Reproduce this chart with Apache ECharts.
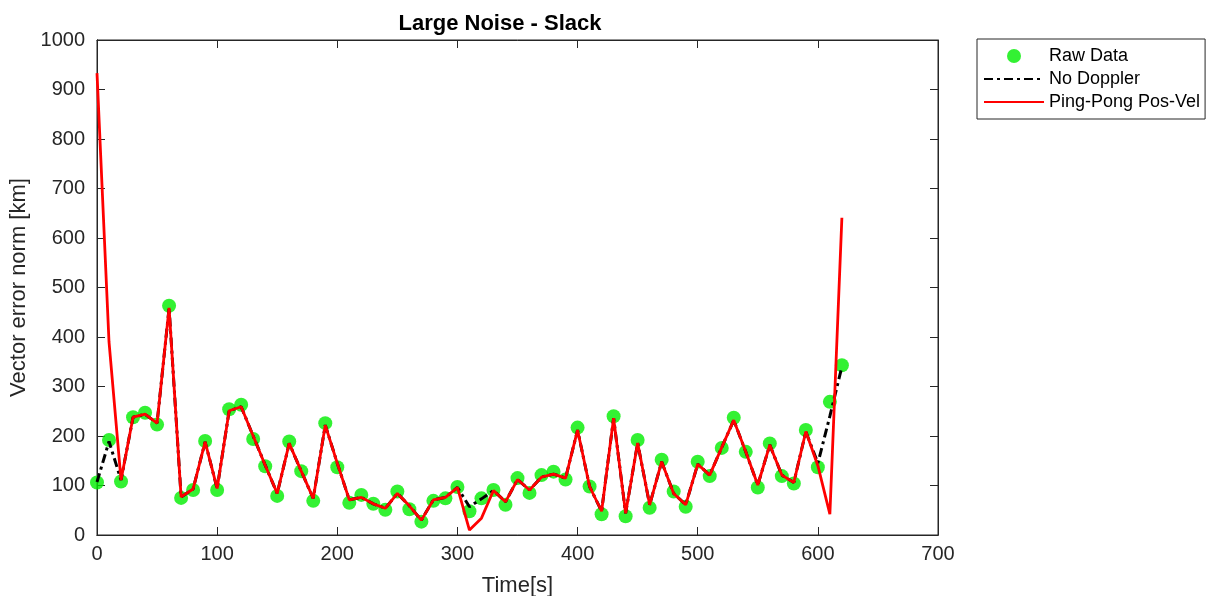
<!DOCTYPE html>
<html>
<head>
<meta charset="utf-8">
<script src="https://cdn.jsdelivr.net/npm/echarts@6/dist/echarts.min.js"></script>
<style>
  html, body { margin: 0; padding: 0; background: #fff; }
  #chart { width: 1217px; height: 596px; }
</style>
</head>
<body>
<div id="chart"></div>
<script>
// Sample times [s]
const timeS = [0, 10, 20, 30, 40, 50, 60, 70, 80, 90, 100, 110, 120, 130, 140, 150, 160, 170, 180, 190,
  200, 210, 220, 230, 240, 250, 260, 270, 280, 290, 300, 310, 320, 330, 340, 350, 360, 370, 380, 390,
  400, 410, 420, 430, 440, 450, 460, 470, 480, 490, 500, 510, 520, 530, 540, 550, 560, 570, 580, 590,
  600, 610, 620];

// Raw measurement error norm [km]
const rawData = [106, 192, 108, 238, 247, 223, 463, 75, 91, 190, 91, 254, 263, 194, 139, 79, 189, 129, 69, 226,
  137, 65, 81, 63, 51, 88, 52, 27, 69, 74, 97, 48, 74, 91, 61, 115, 85, 121, 128, 112,
  217, 98, 42, 240, 38, 192, 55, 152, 88, 57, 148, 119, 176, 237, 168, 96, 185, 119, 104, 212,
  137, 269, 343];

// Estimator without Doppler [km]
const noDoppler = [107, 189, 111, 238, 244, 226, 459, 77, 93, 188, 94, 251, 259, 200, 141, 84, 185, 129, 74, 222,
  145, 71, 76, 63, 54, 84, 59, 30, 71, 76, 96, 57, 73, 90, 67, 112, 91, 117, 123, 115,
  212, 98, 48, 236, 44, 186, 61, 148, 84, 61, 143, 121, 177, 232, 168, 101, 182, 121, 106, 209,
  145, 240, 340];

// Ping-Pong position/velocity estimator [km]
const pingPong = [933, 390, 111, 238, 244, 226, 459, 77, 93, 188, 94, 251, 259, 200, 141, 84, 185, 129, 74, 222,
  145, 71, 76, 63, 54, 84, 59, 30, 71, 76, 96, 10, 34, 90, 67, 112, 91, 117, 123, 115,
  212, 98, 48, 236, 44, 186, 61, 148, 84, 61, 143, 121, 177, 232, 168, 101, 182, 121, 106, 209,
  140, 42, 641];

const pairs = (ys) => timeS.map((t, i) => [t, ys[i]]);

const axisColor = '#262626';
const font = 'Liberation Sans, Arial, Helvetica, sans-serif';

const chart = echarts.init(document.getElementById('chart'), null, { renderer: 'canvas' });

// Labelled axes carry text only; the tick-only axes draw the inward ticks on all four sides.
function labelAxis(extra) {
  return Object.assign({
    type: 'value',
    axisLine: { show: true, onZero: false, lineStyle: { color: axisColor, width: 1 } },
    axisTick: { show: false },
    splitLine: { show: false }
  }, extra);
}
function tickAxis(extra) {
  return Object.assign({
    type: 'value',
    axisLine: { show: true, onZero: false, lineStyle: { color: axisColor, width: 1 } },
    axisTick: { show: true, inside: true, length: 8, lineStyle: { color: axisColor } },
    axisLabel: { show: false },
    splitLine: { show: false }
  }, extra);
}

chart.setOption({
  animation: false,
  backgroundColor: '#ffffff',
  title: {
    text: 'Large Noise - Slack',
    left: 495, top: 8, textAlign: 'center',
    textStyle: { fontFamily: font, fontSize: 22, fontWeight: 'bold', color: '#000' }
  },
  grid: { left: 97, right: 279, top: 40, bottom: 61, containLabel: false,
          outerBoundsMode: 'none',
          show: true, borderColor: axisColor, borderWidth: 1, backgroundColor: 'transparent' },
  legend: {
    orient: 'vertical',
    left: 977, top: 39,
    padding: [8, 5, 8, 6],
    itemWidth: 60, itemHeight: 14, itemGap: 5,
    borderColor: axisColor, borderWidth: 1,
    backgroundColor: '#fff',
    textStyle: { fontFamily: font, fontSize: 18, color: '#000' },
    data: [
      { name: 'Raw Data', icon: 'circle' },
      { name: 'No Doppler', itemStyle: { opacity: 0 } },
      { name: 'Ping-Pong Pos-Vel', itemStyle: { opacity: 0 } }
    ]
  },
  xAxis: [
    labelAxis({
      min: 0, max: 700, interval: 100, position: 'bottom',
      name: 'Time[s]', nameLocation: 'middle', nameGap: 40,
      nameTextStyle: { fontFamily: font, fontSize: 22, color: axisColor },
      axisLabel: { fontFamily: font, fontSize: 20, color: axisColor, margin: 9 }
    }),
    tickAxis({ min: 0, max: 700, interval: 100, position: 'top' }),
    tickAxis({ min: 0, max: 700, interval: 100, position: 'bottom' })
  ],
  yAxis: [
    labelAxis({
      min: 0, max: 1000, interval: 100, position: 'left',
      name: 'Vector error norm [km]', nameLocation: 'middle', nameGap: 61,
      nameTextStyle: { fontFamily: font, fontSize: 22, color: axisColor },
      axisLabel: { fontFamily: font, fontSize: 20, color: axisColor, margin: 12,
                   formatter: (v) => String(v) }
    }),
    tickAxis({ min: 0, max: 1000, interval: 100, position: 'right' }),
    tickAxis({ min: 0, max: 1000, interval: 100, position: 'left' })
  ],
  series: [
    {
      name: 'Raw Data', type: 'scatter',
      data: pairs(rawData),
      symbol: 'circle', symbolSize: 14,
      itemStyle: { color: '#00ee00' },
      z: 1
    },
    {
      name: 'No Doppler', type: 'line',
      data: pairs(noDoppler),
      symbol: 'none',
      lineStyle: { color: '#000', width: 3, type: [9, 4, 3, 4] },
      itemStyle: { color: '#000' },
      z: 2
    },
    {
      name: 'Ping-Pong Pos-Vel', type: 'line',
      data: pairs(pingPong),
      symbol: 'none',
      lineStyle: { color: '#ff0000', width: 2.8 },
      itemStyle: { color: '#ff0000' },
      z: 3
    },
    {
      name: 'frameTopRight', type: 'line', xAxisIndex: 1, yAxisIndex: 1,
      data: [], silent: true
    },
    {
      name: 'frameBottomLeft', type: 'line', xAxisIndex: 2, yAxisIndex: 2,
      data: [], silent: true
    }
  ]
});
</script>
</body>
</html>
